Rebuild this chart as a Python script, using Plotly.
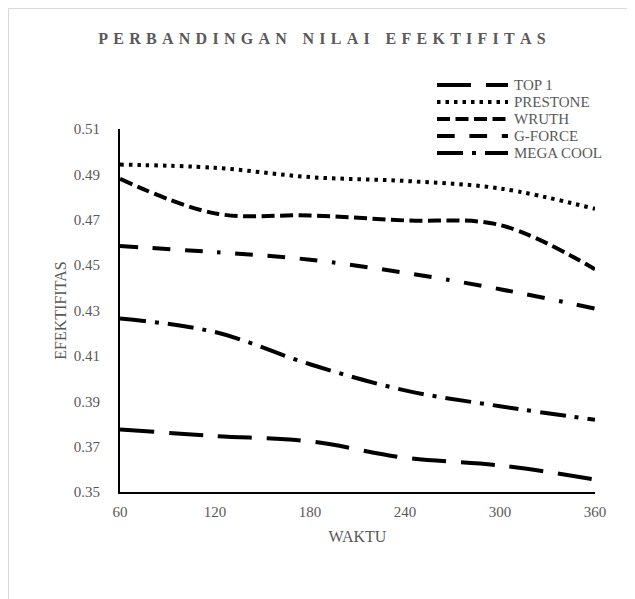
import plotly.graph_objects as go

# ---- data ----
waktu = [60, 120, 180, 240, 300, 360]
series_names = ["TOP 1", "PRESTONE", "WRUTH", "G-FORCE", "MEGA COOL"]
top1 = [0.3776, 0.3747, 0.3723, 0.3651, 0.3617, 0.3555]
prestone = [0.4943, 0.4929, 0.4888, 0.4871, 0.4838, 0.4748]
wruth = [0.4880, 0.4728, 0.4719, 0.4697, 0.4677, 0.4482]
gforce = [0.4584, 0.4557, 0.4524, 0.4466, 0.4394, 0.4308]
megacool = [0.4265, 0.4205, 0.4063, 0.3948, 0.3878, 0.3818]
y_ticks = [0.35, 0.37, 0.39, 0.41, 0.43, 0.45, 0.47, 0.49, 0.51]

series_values = [top1, prestone, wruth, gforce, megacool]
dashes = [
    "34px,15px",
    "3.5px,5px",
    "13px,5.5px",
    "17.7px,14.7px,17.7px,14.7px,17.7px,14.7px,3.5px,14.7px",
    "26px,9px,4px,9px",
]

# page body has an 8px margin -> figure is placed at (8, 8) in the window
OFF = 8
W, H = 635 - OFF, 599 - OFF
L, R, T, B = 120 - OFF, 40, 129 - OFF, 107
PW = W - L - R
PH = H - T - B
GRAY = "#595959"
FONT = "Liberation Serif"


def px_x(px):
    return (px - OFF - L) / PW


def px_y(py):
    return (H - B - (py - OFF)) / PH


fig = go.Figure()
for name, vals, dash in zip(series_names, series_values, dashes):
    fig.add_trace(go.Scatter(
        x=waktu, y=vals, name=name, mode="lines",
        line=dict(color="black", width=4, dash=dash, shape="spline", smoothing=1.0),
        showlegend=False,
    ))

# manual legend (Excel-like compact layout)
shapes = []
annotations = []
for i, (name, dash) in enumerate(zip(series_names, dashes)):
    ry = 85 + i * 17
    shapes.append(dict(type="line", xref="paper", yref="paper",
                       x0=px_x(437), x1=px_x(508), y0=px_y(ry), y1=px_y(ry),
                       line=dict(color="black", width=4, dash=dash)))
    annotations.append(dict(text=name, xref="paper", yref="paper",
                            x=px_x(513), y=px_y(ry), xanchor="left", yanchor="middle",
                            showarrow=False, borderpad=0,
                            font=dict(family=FONT, size=15, color=GRAY)))

# outer chart border
shapes.append(dict(type="rect", xref="paper", yref="paper",
                   x0=px_x(8.5), x1=px_x(700), y0=px_y(700), y1=px_y(8.5),
                   line=dict(color="#d9d9d9", width=1), fillcolor="rgba(0,0,0,0)",
                   layer="below"))

SP = '<span style="font-size:21px"> </span>'
title_text = (SP * 3).join(SP.join(list(w)) for w in "PERBANDINGAN NILAI EFEKTIFITAS".split(" "))

fig.update_layout(
    width=W, height=H,
    margin=dict(l=L, r=R, t=T, b=B),
    paper_bgcolor="white", plot_bgcolor="white",
    title=dict(text="<b>" + title_text + "</b>", x=(322 - OFF) / W, xanchor="center",
               y=1 - (38 - OFF) / H, yanchor="middle", xref="container",
               font=dict(family=FONT, size=16, color=GRAY)),
    shapes=shapes,
    annotations=annotations,
    showlegend=False,
)
fig.update_xaxes(
    range=[60, 360], tickvals=waktu, ticktext=[str(v) for v in waktu],
    showgrid=False, zeroline=False, showline=True, linecolor="black", linewidth=2,
    ticks="", tickfont=dict(family=FONT, size=15, color=GRAY), ticklabelstandoff=5,
    title=dict(text="WAKTU", font=dict(family=FONT, size=16, color=GRAY), standoff=12),
)
fig.update_yaxes(
    range=[0.35, 0.51], tickvals=y_ticks, ticktext=[f"{v:.2f}" for v in y_ticks],
    showgrid=False, zeroline=False, showline=True, linecolor="black", linewidth=2,
    ticks="", tickfont=dict(family=FONT, size=15, color=GRAY), ticklabelstandoff=15,
    title=dict(text="EFEKTIFITAS", font=dict(family=FONT, size=16, color=GRAY), standoff=3),
)

fig.write_html("out.html")
